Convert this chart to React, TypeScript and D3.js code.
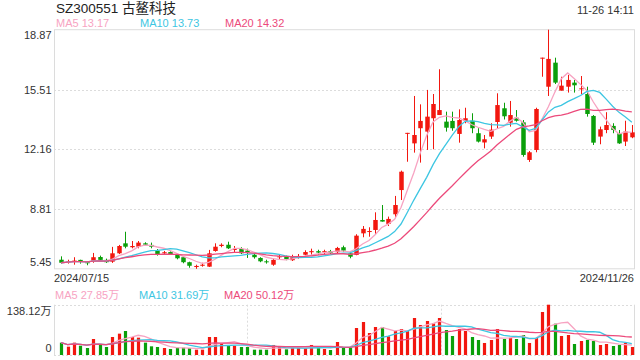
import React from "react";
import * as d3 from "d3";

const opens = [5.96,5.82,5.87,5.95,5.82,5.87,6.11,5.95,5.85,6.32,
6.88,6.66,6.69,6.88,6.79,6.47,6.32,6.39,6.23,6.10,
5.82,5.55,5.62,5.57,6.45,6.73,6.80,6.51,6.56,6.47,
6.24,6.06,5.87,5.68,6.10,6.13,5.93,6.10,6.24,6.38,
6.44,6.39,6.44,6.38,6.66,6.32,6.23,7.44,7.52,7.63,
8.19,7.97,8.51,9.87,13.08,12.49,13.34,13.15,13.90,14.08,
13.71,13.75,13.02,13.75,13.76,13.06,12.54,12.87,13.69,14.46,
13.65,13.93,13.67,11.56,12.12,17.30,15.67,17.02,15.45,15.67,
15.90,15.53,15.26,14.03,12.87,13.24,13.47,13.06,12.59,12.83];
const highs = [6.15,5.96,6.10,5.96,5.87,6.34,6.19,6.02,6.68,6.79,
7.53,7.01,7.01,6.94,6.92,6.56,6.45,6.43,6.28,6.13,
5.85,5.68,5.79,6.51,6.88,6.88,6.97,6.73,6.66,6.58,
6.28,6.10,5.96,6.02,6.24,6.19,6.24,6.28,6.49,6.58,
6.52,6.52,6.51,6.68,6.75,6.41,7.39,7.85,7.78,8.62,
9.03,8.38,9.54,10.96,13.08,15.15,14.68,15.49,15.26,16.65,
14.27,14.27,14.40,14.49,14.18,13.34,12.96,13.62,15.30,14.77,
14.87,14.36,13.80,12.06,14.49,17.30,18.87,17.30,16.23,16.33,
16.05,16.27,15.67,14.08,13.43,14.24,13.62,13.24,13.76,13.52];
const lows = [5.74,5.74,5.68,5.74,5.65,5.79,5.93,5.78,5.78,6.28,
6.60,6.60,6.60,6.75,6.60,6.19,6.23,6.24,5.98,5.76,
5.51,5.45,5.57,5.55,6.41,6.66,6.56,6.39,6.28,6.06,
6.02,5.82,5.74,5.62,6.00,5.93,5.89,6.02,6.21,6.24,
6.24,6.28,6.28,6.30,6.39,6.04,6.21,7.22,7.25,7.40,
8.10,7.85,8.29,9.31,11.46,11.97,11.41,12.12,12.16,14.08,
13.15,13.20,12.53,13.62,13.06,12.54,12.21,12.74,13.34,13.83,
13.43,13.71,11.74,11.45,11.99,16.23,15.15,15.82,15.45,15.34,
15.34,15.26,13.99,12.40,12.44,13.06,13.06,12.46,12.34,12.78];
const closes = [5.79,5.87,5.91,5.85,5.76,6.10,5.95,5.82,6.32,6.73,
6.69,6.73,6.92,6.80,6.69,6.23,6.38,6.28,6.04,5.82,
5.62,5.61,5.68,6.32,6.69,6.80,6.60,6.56,6.32,6.38,
6.10,5.87,5.82,5.95,6.15,5.99,6.10,6.17,6.39,6.44,
6.36,6.44,6.34,6.62,6.47,6.13,7.31,7.69,7.57,8.19,
8.10,8.25,9.03,10.90,13.08,12.96,13.75,13.99,14.70,14.36,
13.37,13.34,13.80,13.90,13.34,12.59,12.72,13.26,14.64,14.01,
14.08,13.76,11.84,11.99,14.42,17.30,17.23,15.90,15.73,16.05,
15.75,15.58,14.14,12.53,13.28,13.52,13.24,12.49,13.15,13.11];
const volumes = [33.9,22.9,33.9,25.6,19.2,43.9,27.5,22.0,49.4,58.6,
65.9,49.4,47.6,33.9,23.8,22.0,19.2,16.5,20.1,20.1,
19.2,14.6,14.6,49.4,49.4,32.0,25.6,25.6,22.0,22.0,
14.6,14.6,14.6,27.5,22.0,15.6,19.2,19.2,19.2,27.5,
20.1,16.5,13.7,35.7,20.1,20.1,74.1,90.6,60.4,76.9,
76.9,51.3,65.9,71.4,65.9,101.6,82.4,93.4,87.0,101.6,
68.6,52.2,71.4,65.9,49.4,41.2,33.0,41.2,71.4,43.9,
46.7,43.9,54.9,33.0,46.7,118.1,138.12,86.0,52.2,54.9,
30.2,38.4,41.2,38.4,27.5,30.2,24.7,27.5,33.0,22.0];

const priceTicks = [18.87, 15.51, 12.16, 8.81, 5.45];
const volTicks = ["138.12万", "0"];
const volMax = 138.12;
const dateLabels = ["2024/07/15", "2024/11/26"];
const titleText = "SZ300551 古鳌科技";
const timeText = "11-26 14:11";
const maNames = ["MA5", "MA10", "MA20"];
const maPeriods = [5, 10, 20];
const priceMaValues = ["13.17", "13.73", "14.32"];
const volMaValues = ["27.85万", "31.69万", "50.12万"];

const RED = "#f2170f";
const GREEN = "#0a9f0a";
const MA_COLORS = ["#f7a3c2", "#3dc6e2", "#ec4a7b"];
const GRID = "#dcdcdc";
const FONT = "'Liberation Sans', Arial, 'Noto Sans CJK SC', sans-serif";

function movingAvg(arr: number[], n: number) {
  return arr.map((_, i) => {
    const s = arr.slice(Math.max(0, i - n + 1), i + 1);
    return d3.mean(s) as number;
  });
}

export default function App() {
  const n = closes.length;
  const L = 54, R = 634, T = 29.7, B = 268.8;
  const VT = 304.7, VB = 355;
  const idx = d3.range(n);
  const x = d3.scaleBand<number>().domain(idx).range([57, 636]).padding(0.3);
  const step = x.step();
  const cx = (i: number) => (x(i) as number) + x.bandwidth() / 2;
  const y = d3.scaleLinear().domain([d3.min(priceTicks)!, d3.max(priceTicks)!]).range([B, T]);
  const yv = d3.scaleLinear().domain([0, volMax]).range([VB, VT]);
  const bodyW = step * 0.7;
  const volW = step * 0.5;
  const isUp = (i: number) => closes[i] >= opens[i];

  const priceMAs = maPeriods.map((p) => movingAvg(closes, p));
  const volMAs = maPeriods.map((p) => movingAvg(volumes, p));
  const line = (yy: d3.ScaleLinear<number, number>) =>
    d3.line<number>().x((_, i) => cx(i)).y((v) => yy(v));

  const priceLabelY = (t: number, k: number) => {
    const yy = y(t);
    if (k === 0) return yy + 9.5;
    if (k === priceTicks.length - 1) return yy - 3;
    return yy + 4;
  };

  const legendX = [56, 140, 225];
  const vGrid = [L + (R - L) / 3, L + (2 * (R - L)) / 3];

  return (
    <svg width={640} height={360} style={{ position: "fixed", left: 0, top: 0, background: "#fff" }} fontFamily={FONT}>
      <text x={56} y={13} fontSize={13.5} fill="#222">{titleText}</text>
      <text x={634} y={14} fontSize={11} fill="#333" textAnchor="end">{timeText}</text>
      {maNames.map((m, k) => (
        <text key={m} x={legendX[k]} y={27} fontSize={11} fill={MA_COLORS[k]}>{m} {priceMaValues[k]}</text>
      ))}
      <rect x={L + 0.5} y={T} width={R - L} height={B - T} fill="none" stroke={GRID} strokeWidth={1} />
      {priceTicks.slice(1, -1).map((t) => (
        <line key={t} x1={L} x2={R} y1={Math.round(y(t)) + 0.5} y2={Math.round(y(t)) + 0.5} stroke={GRID} strokeDasharray="2,2" />
      ))}
      {priceTicks.map((t, k) => (
        <text key={"pl" + t} x={51.5} y={priceLabelY(t, k)} fontSize={11} fill="#333" textAnchor="end">{t.toFixed(2)}</text>
      ))}
      {idx.map((i) => {
        const c = isUp(i) ? RED : GREEN;
        const xc = Math.round(cx(i)) + 0.5;
        const top = y(Math.max(opens[i], closes[i]));
        const bot = y(Math.min(opens[i], closes[i]));
        return (
          <g key={"c" + i}>
            <line x1={xc} x2={xc} y1={y(highs[i])} y2={y(lows[i])} stroke={c} strokeWidth={1} />
            <rect x={xc - bodyW / 2} y={top} width={bodyW} height={Math.max(1, bot - top)} fill={c} />
          </g>
        );
      })}
      {priceMAs.map((arr, k) => (
        <path key={"pm" + k} d={line(y)(arr) || ""} fill="none" stroke={MA_COLORS[k]} strokeWidth={1.3} />
      ))}
      {dateLabels.map((d, k) => (
        <text key={d} x={k === 0 ? L : R} y={282} fontSize={11} fill="#333" textAnchor={k === 0 ? "start" : "end"}>{d}</text>
      ))}
      {maNames.map((m, k) => (
        <text key={"v" + m} x={legendX[k] - 1} y={299} fontSize={11} fill={MA_COLORS[k]}>{m} {volMaValues[k]}</text>
      ))}
      <line x1={L + 0.5} x2={L + 0.5} y1={VT} y2={VB} stroke={GRID} />
      <line x1={R + 0.5} x2={R + 0.5} y1={VT} y2={VB} stroke={GRID} />
      <line x1={L} x2={R} y1={Math.round(VT) + 0.5} y2={Math.round(VT) + 0.5} stroke={GRID} strokeDasharray="2,2" />
      <line x1={L} x2={R} y1={VB + 0.5} y2={VB + 0.5} stroke={GRID} strokeDasharray="2,2" />
      {vGrid.map((gx) => (
        <line key={"vg" + gx} x1={Math.round(gx) + 0.5} x2={Math.round(gx) + 0.5} y1={VT} y2={VB} stroke={GRID} strokeDasharray="2,2" />
      ))}
      <text x={51.5} y={315} fontSize={11} fill="#333" textAnchor="end">{volTicks[0]}</text>
      <text x={51.5} y={351.5} fontSize={11} fill="#333" textAnchor="end">{volTicks[1]}</text>
      {idx.map((i) => (
        <rect key={"v" + i} x={Math.round(cx(i)) + 0.5 - volW / 2} y={yv(volumes[i])} width={volW} height={VB - yv(volumes[i])} fill={isUp(i) ? RED : GREEN} />
      ))}
      {volMAs.map((arr, k) => (
        <path key={"vm" + k} d={line(yv)(arr) || ""} fill="none" stroke={MA_COLORS[k]} strokeWidth={1.3} />
      ))}
    </svg>
  );
}
